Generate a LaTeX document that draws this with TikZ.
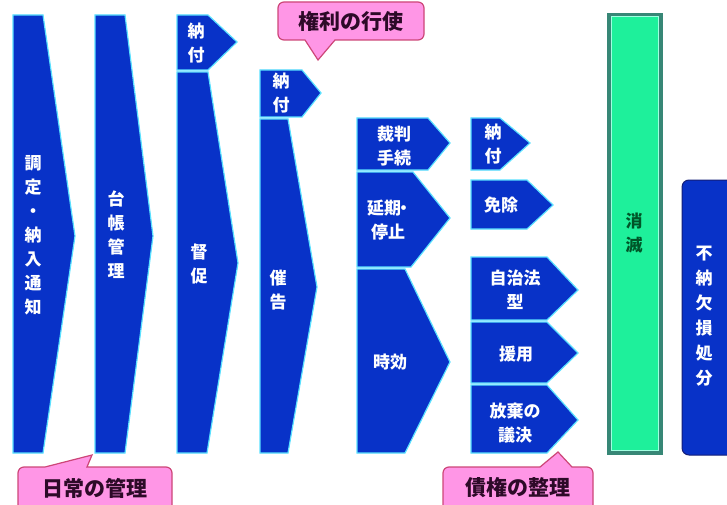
\documentclass[tikz,border=0pt]{standalone}
\usepackage{fontspec}
\newfontfamily\jp{Noto Sans CJK JP}
\definecolor{blk}{RGB}{8,50,200}
\definecolor{glow}{RGB}{90,225,255}
\definecolor{pinkfill}{RGB}{255,150,230}
\definecolor{pinkline}{RGB}{205,70,120}
\definecolor{pinktext}{RGB}{45,10,40}
\definecolor{tealdark}{RGB}{55,135,118}
\definecolor{mint}{RGB}{30,240,155}
\definecolor{mintline}{RGB}{160,255,225}
\definecolor{greentext}{RGB}{0,85,40}
\begin{document}
\begin{tikzpicture}[x=1pt,y=-1pt,
  chev/.style={fill=blk, draw=glow, line width=1.2pt, line join=miter},
  wt/.style={text=white, font=\jp\bfseries\fontsize{17}{24}\selectfont, align=center, inner sep=0pt},
  callout/.style={fill=pinkfill, draw=pinkline, line width=1.2pt},
  ct/.style={text=pinktext, font=\jp\bfseries\fontsize{21}{24}\selectfont, inner sep=0pt}]
\useasboundingbox (0,0) rectangle (727,505);

% column 1
\draw[chev] (13,15) -- (43,15) -- (75,236) -- (43,453) -- (13,453) -- cycle;
\node[wt] (c1) at (33,235) {調\\定\\・\\納\\入\\通\\知};
% column 2
\draw[chev] (95,15) -- (125,15) -- (153,236) -- (125,453) -- (95,453) -- cycle;
\node[wt] (c2) at (116,235) {台\\帳\\管\\理};
% column 3
\draw[chev] (177,15) -- (208,15) -- (237,42) -- (208,70) -- (177,70) -- cycle;
\node[wt] (n3) at (196,43) {納\\付};
\draw[chev] (177,72) -- (208,72) -- (238,263) -- (207,453) -- (177,453) -- cycle;
\node[wt] (c3) at (199,264) {督\\促};
% column 4
\draw[chev] (260,70) -- (302,70) -- (321,93) -- (302,117) -- (260,117) -- cycle;
\node[wt] (n4) at (281,93) {納\\付};
\draw[chev] (260,119) -- (288,119) -- (317,287) -- (288,453) -- (260,453) -- cycle;
\node[wt] (c4) at (278,290) {催\\告};
% column 5
\draw[chev] (357,118) -- (428,118) -- (450,143) -- (428,170) -- (357,170) -- cycle;
\node[wt] (s1) at (394,146) {裁判\\手続};
\draw[chev] (357,172) -- (413,172) -- (450,218) -- (411,267) -- (357,267) -- cycle;
\node[wt] (s2) at (388,220) {延期\kern-0.35em・\kern-0.2em\\停止};
\draw[chev] (357,269) -- (405,269) -- (450,362) -- (405,453) -- (357,453) -- cycle;
\node[wt] (s3) at (390,362) {時効};
% column 6
\draw[chev] (471,118) -- (500,118) -- (530,143) -- (500,170) -- (471,170) -- cycle;
\node[wt] (t1) at (493,144) {納\\付};
\draw[chev] (471,180) -- (527,180) -- (553,205) -- (527,229) -- (471,229) -- cycle;
\node[wt] (t2) at (501,205) {免除};
\draw[chev] (471,257) -- (547,257) -- (578,290) -- (547,320) -- (471,320) -- cycle;
\node[wt] (t3) at (515,290) {自治法\\型};
\draw[chev] (471,322) -- (547,322) -- (578,353) -- (547,383) -- (471,383) -- cycle;
\node[wt] (t4) at (516,354) {援用};
\draw[chev] (471,385) -- (547,385) -- (578,420) -- (547,453) -- (471,453) -- cycle;
\node[wt] (t5) at (515,423) {放棄の\\議決};

% green bar
\fill[tealdark] (607,13) rectangle (663,455);
\draw[fill=mint, draw=mintline, line width=1pt] (611,17) rectangle (658,450);
\node[font=\jp\bfseries\fontsize{17}{24}\selectfont, text=greentext, align=center, inner sep=0pt] (g) at (634,233) {消\\滅};

% blue rounded box
\draw[fill=blk, draw={rgb,255:red,20;green,30;blue,120}, line width=1pt, rounded corners=7] (682,180) rectangle (745,455);
\node[wt, font=\jp\bfseries\fontsize{17}{25}\selectfont] (f) at (704,316) {不\\納\\欠\\損\\処\\分};

% callouts
\draw[callout] (318,60) -- (305,40) -- (300,40) [rounded corners=6] -- (278,40) -- (278,2) -- (424,2) -- (424,40) -- (400,40) [sharp corners] -- (335,40) -- cycle;
\node[ct] (k1) at (351,21) {権利の行使};

\draw[callout] (92,455) -- (87,467) -- (100,467) [rounded corners=6] -- (172,467) -- (172,515) -- (18,515) -- (18,467) -- (35,467) [sharp corners] -- (45,467) -- cycle;
\node[ct] (k2) at (95,488) {日常の管理};

\draw[callout] (558,452) -- (572,467) -- (580,467) [rounded corners=6] -- (593,467) -- (593,515) -- (443,515) -- (443,467) -- (530,467) [sharp corners] -- (540,467) -- cycle;
\node[ct] (k3) at (518,488) {債権の整理};
\end{tikzpicture}
\end{document}
